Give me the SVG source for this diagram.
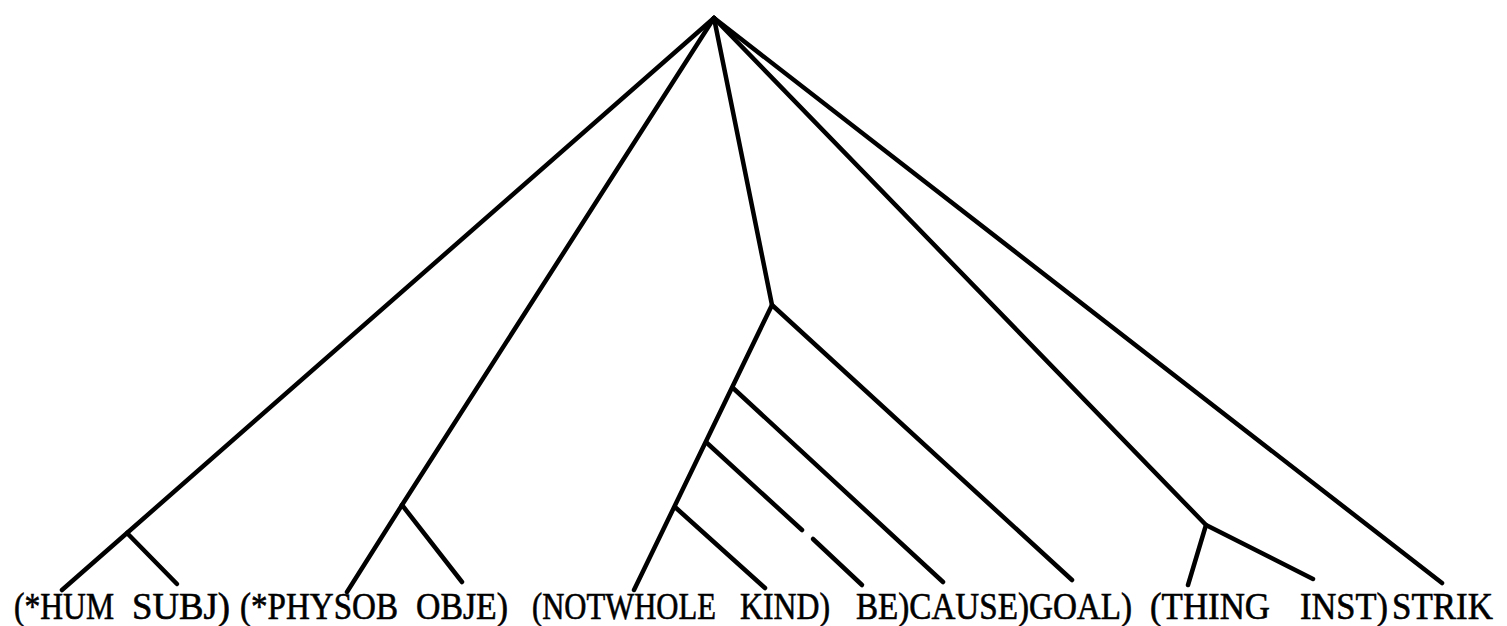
<svg xmlns="http://www.w3.org/2000/svg" width="1507" height="626" viewBox="0 0 1507 626">
<style>
.e{fill:none;stroke:#000;stroke-width:4.5;stroke-linecap:round;stroke-linejoin:round}
.t{font-family:"Liberation Serif","Times New Roman",serif;font-size:37px;fill:#000;stroke:#000;stroke-width:0.6}
</style>
<rect width="1507" height="626" fill="#fff"/>
<g id="connectors">
<polyline class="e" points="714,18 127,533 62,590"/>
<line class="e" x1="127" y1="533" x2="177" y2="584"/>
<polyline class="e" points="714,18 402,505 347,592"/>
<line class="e" x1="402" y1="505" x2="462" y2="582"/>
<polyline class="e" points="714,18 772,305 634,590"/>
<line class="e" x1="772" y1="305" x2="1072" y2="580"/>
<line class="e" x1="733" y1="388" x2="943" y2="582"/>
<line class="e" x1="707" y1="443" x2="802" y2="530"/>
<line class="e" x1="813" y1="539" x2="862" y2="585"/>
<line class="e" x1="675" y1="507" x2="765" y2="588"/>
<polyline class="e" points="714,18 1206,525 1188,585"/>
<line class="e" x1="1206" y1="525" x2="1313" y2="579"/>
<line class="e" x1="714" y1="18" x2="1442" y2="583"/>
</g>
<g id="n-hum"><text class="t" x="14" y="619" textLength="100" lengthAdjust="spacingAndGlyphs">(*HUM</text></g>
<g id="n-subj"><text class="t" x="132" y="619" textLength="98" lengthAdjust="spacingAndGlyphs">SUBJ)</text></g>
<g id="n-physob"><text class="t" x="240" y="619" textLength="158" lengthAdjust="spacingAndGlyphs">(*PHYSOB</text></g>
<g id="n-obje"><text class="t" x="416" y="619" textLength="92" lengthAdjust="spacingAndGlyphs">OBJE)</text></g>
<g id="n-notwhole"><text class="t" x="532" y="619" textLength="184" lengthAdjust="spacingAndGlyphs">(NOTWHOLE</text></g>
<g id="n-kind"><text class="t" x="740" y="619" textLength="90" lengthAdjust="spacingAndGlyphs">KIND)</text></g>
<g id="n-be-cause-goal"><text class="t" x="856" y="619" textLength="276" lengthAdjust="spacingAndGlyphs">BE)CAUSE)GOAL)</text></g>
<g id="n-thing"><text class="t" x="1150" y="619" textLength="120" lengthAdjust="spacingAndGlyphs">(THING</text></g>
<g id="n-inst"><text class="t" x="1300" y="619" textLength="88" lengthAdjust="spacingAndGlyphs">INST)</text></g>
<g id="n-strik"><text class="t" x="1392" y="619" textLength="101" lengthAdjust="spacingAndGlyphs">STRIK</text></g>
</svg>
